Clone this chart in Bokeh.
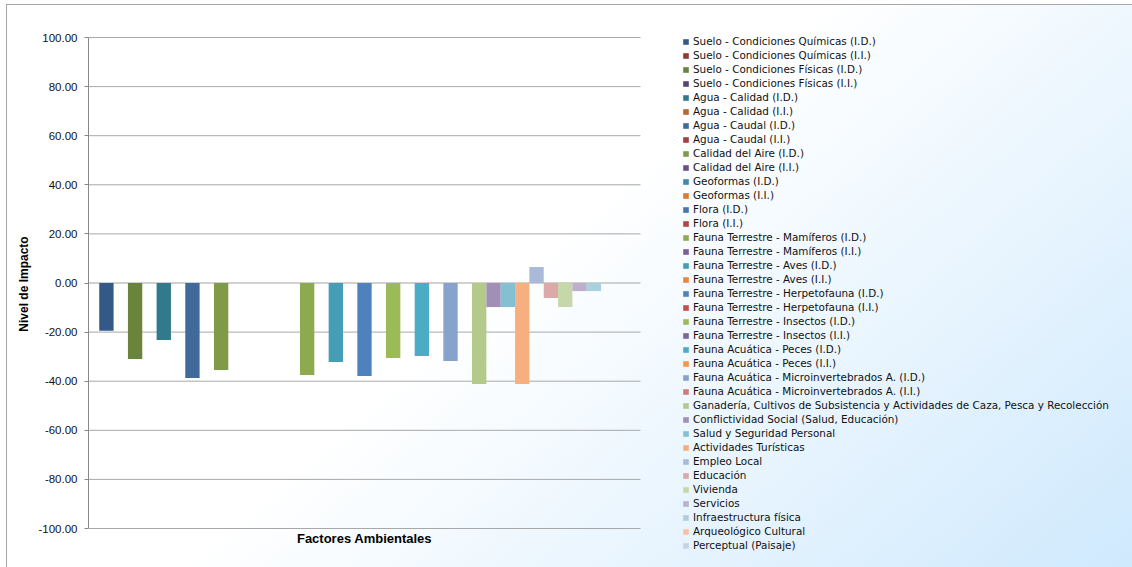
from bokeh.plotting import figure
from bokeh.models import Legend, LegendItem, FixedTicker, NumeralTickFormatter, Label, LinearAxis
from bokeh.embed import file_html
from bokeh.resources import INLINE

series_names = [
    "Suelo - Condiciones Químicas (I.D.)",
    "Suelo - Condiciones Químicas (I.I.)",
    "Suelo - Condiciones Físicas (I.D.)",
    "Suelo - Condiciones Físicas (I.I.)",
    "Agua - Calidad (I.D.)",
    "Agua - Calidad (I.I.)",
    "Agua - Caudal (I.D.)",
    "Agua - Caudal (I.I.)",
    "Calidad del Aire (I.D.)",
    "Calidad del Aire (I.I.)",
    "Geoformas (I.D.)",
    "Geoformas (I.I.)",
    "Flora (I.D.)",
    "Flora (I.I.)",
    "Fauna Terrestre - Mamíferos (I.D.)",
    "Fauna Terrestre - Mamíferos (I.I.)",
    "Fauna Terrestre - Aves (I.D.)",
    "Fauna Terrestre - Aves (I.I.)",
    "Fauna Terrestre - Herpetofauna (I.D.)",
    "Fauna Terrestre - Herpetofauna (I.I.)",
    "Fauna Terrestre - Insectos (I.D.)",
    "Fauna Terrestre - Insectos (I.I.)",
    "Fauna Acuática - Peces (I.D.)",
    "Fauna Acuática - Peces (I.I.)",
    "Fauna Acuática - Microinvertebrados A. (I.D.)",
    "Fauna Acuática - Microinvertebrados A. (I.I.)",
    "Ganadería, Cultivos de Subsistencia y Actividades de Caza, Pesca y Recolección",
    "Conflictividad Social (Salud, Educación)",
    "Salud y Seguridad Personal",
    "Actividades Turísticas",
    "Empleo Local",
    "Educación",
    "Vivienda",
    "Servicios",
    "Infraestructura física",
    "Arqueológico Cultural",
    "Perceptual (Paisaje)",
]

series_values = [
    -19.5, 0, -31.0, 0, -23.2, 0, -38.7, 0, -35.4, 0,
    0, 0, 0, 0, -37.5, 0, -32.2, 0, -37.9, 0,
    -30.5, 0, -29.7, 0, -31.8, 0, -41.1, -9.8, -9.8, -41.1,
    6.5, -6.1, -9.8, -3.3, -3.3, 0, 0,
]

series_colors = [
    "#335A87", "#8B3A38", "#6B843B", "#574473", "#327A8B", "#B46A32",
    "#3F6A9A", "#A33F3C", "#7F9A48", "#6A5089", "#3A8EA3", "#D47D38",
    "#4A74AA", "#B24643", "#8EAA4F", "#7A5F9A", "#459EB6", "#E4883D",
    "#4F81BD", "#C0504D", "#9BBB59", "#8064A2", "#4BACC6", "#F79646",
    "#87A2CB", "#CD7E7C", "#B3CA8B", "#A18FB5", "#84BFD2", "#F8AF80",
    "#AAB9D8", "#DAA9A8", "#C6D7AA", "#BCB0CC", "#A9D0DE", "#FAC0A0",
    "#C8D2E2",
]

y_ticks = [-100, -80, -60, -40, -20, 0, 20, 40, 60, 80, 100]
y_min, y_max = -100, 100

# layout geometry (pixels)
W, H = 1132, 567
LEFT = 88
PLOT_RIGHT = 640
PLOT_TOP, PLOT_BOTTOM = 37, 528

n = len(series_names)
x_lo, x_hi = -1.25, n + 0.25                       # extent of the bar area in data units
px_per_x = (PLOT_RIGHT - LEFT) / (x_hi - x_lo)
px_per_y = (PLOT_BOTTOM - PLOT_TOP) / (y_max - y_min)
x_end = x_lo + (W - LEFT) / px_per_x
y_top = y_max + PLOT_TOP / px_per_y
y_bot = y_min - (H - PLOT_BOTTOM) / px_per_y

p = figure(
    width=W, height=H,
    x_range=(x_lo, x_end), y_range=(y_bot, y_top),
    x_axis_type=None, y_axis_type=None,
    min_border_left=LEFT, min_border_right=0, min_border_top=0, min_border_bottom=0,
    output_backend="svg", toolbar_location=None,
)
p.border_fill_alpha = 0
p.background_fill_alpha = 0
p.outline_line_color = None
p.grid.visible = False
p.styles = {
    "background": (
        "linear-gradient(139deg, #ffffff 46%, #cfe9fd 100%) 7px 5px / calc(100% - 7px) calc(100% - 5px) no-repeat, "
        "linear-gradient(#a6a6a6, #a6a6a6) 6px 4px / calc(100% - 6px) calc(100% - 4px) no-repeat, "
        "#ffffff"
    ),
}

# horizontal gridlines limited to the plot area
grid_y = [t for t in y_ticks if t != 0]
p.segment(x0=[x_lo] * len(grid_y), x1=[x_hi] * len(grid_y), y0=grid_y, y1=grid_y,
          line_color="#A8A8A8", line_width=1, level="underlay")
p.segment(x0=[x_lo], x1=[x_hi], y0=[0], y1=[0],
          line_color="#D0D0D0", line_width=2, level="underlay")

items = []
for i, (name, val, col) in enumerate(zip(series_names, series_values, series_colors)):
    r = p.vbar(x=[i], top=[val], bottom=0, width=1.0, fill_color=col, line_color=None)
    items.append(LegendItem(label=name, renderers=[r]))

yaxis = LinearAxis(
    ticker=FixedTicker(ticks=y_ticks),
    formatter=NumeralTickFormatter(format="0.00"),
    bounds=(y_min, y_max),
    minor_tick_line_color=None,
    major_tick_in=0, major_tick_out=4,
    major_tick_line_color="#888888", axis_line_color="#888888",
    major_label_text_font="Liberation Sans", major_label_text_font_size="11.5px",
    major_label_text_color="#111111", major_label_standoff=7,
    axis_label="Nivel de Impacto",
    axis_label_text_font="Liberation Sans", axis_label_text_font_size="12px",
    axis_label_text_font_style="bold", axis_label_text_color="#000000",
    axis_label_standoff=4,
)
p.add_layout(yaxis, "left")

xtitle = Label(
    x=(x_lo + x_hi) / 2, y=y_min - 10 / px_per_y,
    text="Factores Ambientales", text_align="center", text_baseline="middle",
    text_font="Liberation Sans", text_font_size="13px", text_font_style="bold",
    text_color="#000000",
)
p.add_layout(xtitle)

legend = Legend(
    items=items, location=(594, 16),
    padding=0, margin=0, spacing=2,
    glyph_width=7, glyph_height=7, label_height=12, label_standoff=4,
    label_text_font="DejaVu Sans", label_text_font_size="10.4px", label_text_color="#111111",
    border_line_color=None, background_fill_alpha=0,
)
p.add_layout(legend)

open("out.html", "w").write(file_html(p, INLINE))
